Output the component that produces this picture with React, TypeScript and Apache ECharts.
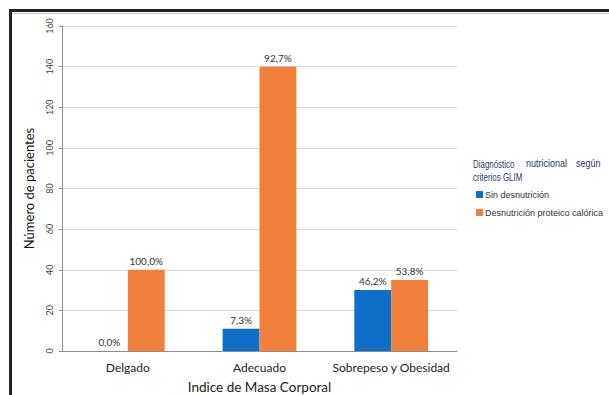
import React, { useEffect, useRef } from "react";
import * as echarts from "echarts";

// Patients per BMI category, split by GLIM nutritional diagnosis
const categories = ["Delgado", "Adecuado", "Sobrepeso y Obesidad"];
const sinDesnutricion = [0, 11, 30];
const desnutricion = [40, 140, 35];
const sinDesnutricionPct = ["0,0%", "7,3%", "46,2%"];
const desnutricionPct = ["100,0%", "92,7%", "53,8%"];
const seriesNames = ["Sin desnutrición", "Desnutrición proteico calórica"];
const legendTitleWords = ["Diagnóstico", "nutricional", "según"];
const legendTitleLine2 = "criterios GLIM";

const BLUE = "#0F6FC6";
const ORANGE = "#F0803C";
const FONT = "Lato, 'Open Sans', sans-serif";
const SANS = "'Liberation Sans', Arial, sans-serif";
const TITLE_BLUE = "#1F3864";

// condensed text for the legend heading
const headingText = (text: string, pos: Record<string, number>, scaleX = 0.72) => ({
  type: "text",
  ...pos,
  scaleX,
  style: { text, fontFamily: SANS, fontSize: 11, fill: TITLE_BLUE },
});

export default function App() {
  const ref = useRef<HTMLDivElement>(null);

  useEffect(() => {
    if (!ref.current) return;
    const chart = echarts.init(ref.current, undefined, { renderer: "svg" });

    const barLabel = (labels: string[]) => ({
      show: true,
      position: "top" as const,
      distance: 4,
      fontFamily: FONT,
      fontSize: 10,
      color: "#333",
      formatter: (p: any) => labels[p.dataIndex],
    });

    chart.setOption({
      animation: false,
      backgroundColor: "#fff",
      grid: { left: 62, right: 152, top: 26, bottom: 44, outerBoundsMode: "none" },
      xAxis: {
        type: "category",
        data: categories,
        axisLine: { lineStyle: { color: "#8c8c8c" } },
        axisTick: { show: false },
        axisLabel: { interval: 0, fontFamily: FONT, fontSize: 12, color: "#222", margin: 10 },
        name: "Indice de Masa Corporal",
        nameLocation: "middle",
        nameGap: 29,
        nameTextStyle: { fontFamily: FONT, fontSize: 13.5, color: "#222" },
      },
      yAxis: {
        type: "value",
        min: 0,
        max: 160,
        interval: 20,
        axisLine: { show: true, lineStyle: { color: "#8c8c8c" } },
        axisTick: { show: true, length: 3, lineStyle: { color: "#8c8c8c" } },
        splitLine: { lineStyle: { color: "#d9d9d9" } },
        axisLabel: { rotate: 90, fontFamily: FONT, fontSize: 9, color: "#444", margin: 8 },
        name: "Número de pacientes",
        nameLocation: "middle",
        nameGap: 27,
        nameTextStyle: { fontFamily: FONT, fontSize: 13, color: "#111" },
      },
      legend: {
        orient: "vertical",
        left: 471,
        top: 185,
        itemWidth: 7,
        itemHeight: 7,
        itemGap: 9,
        icon: "rect",
        textStyle: { fontFamily: SANS, fontSize: 9, color: "#333", padding: [0, 0, 0, -3] },
        data: seriesNames,
      },
      graphic: [
        // frame lines along top and left edges
        { type: "rect", shape: { x: 9, y: 9, width: 600, height: 3 }, style: { fill: "#222" } },
        { type: "rect", shape: { x: 9, y: 13, width: 600, height: 1 }, style: { fill: "#c8c8c8" } },
        { type: "rect", shape: { x: 9, y: 9, width: 3, height: 386 }, style: { fill: "#222" } },
        // legend heading, justified on its first line
        headingText(legendTitleWords[0], { x: 473, y: 158 }),
        headingText(legendTitleWords[1], { x: 526, y: 158 }, 0.82),
        headingText(legendTitleWords[2], { x: 576, y: 158 }, 0.82),
        headingText(legendTitleLine2, { x: 473, y: 171 }),
      ],
      series: [
        {
          name: seriesNames[0],
          type: "bar",
          data: sinDesnutricion,
          itemStyle: { color: BLUE },
          barWidth: "28%",
          barGap: "0%",
          label: barLabel(sinDesnutricionPct),
        },
        {
          name: seriesNames[1],
          type: "bar",
          data: desnutricion,
          itemStyle: { color: ORANGE },
          barWidth: "28%",
          barGap: "0%",
          label: barLabel(desnutricionPct),
        },
      ],
    });

    return () => chart.dispose();
  }, []);

  return (
    <div
      ref={ref}
      style={{ position: "absolute", left: 0, top: 0, width: 609, height: 395 }}
    />
  );
}
